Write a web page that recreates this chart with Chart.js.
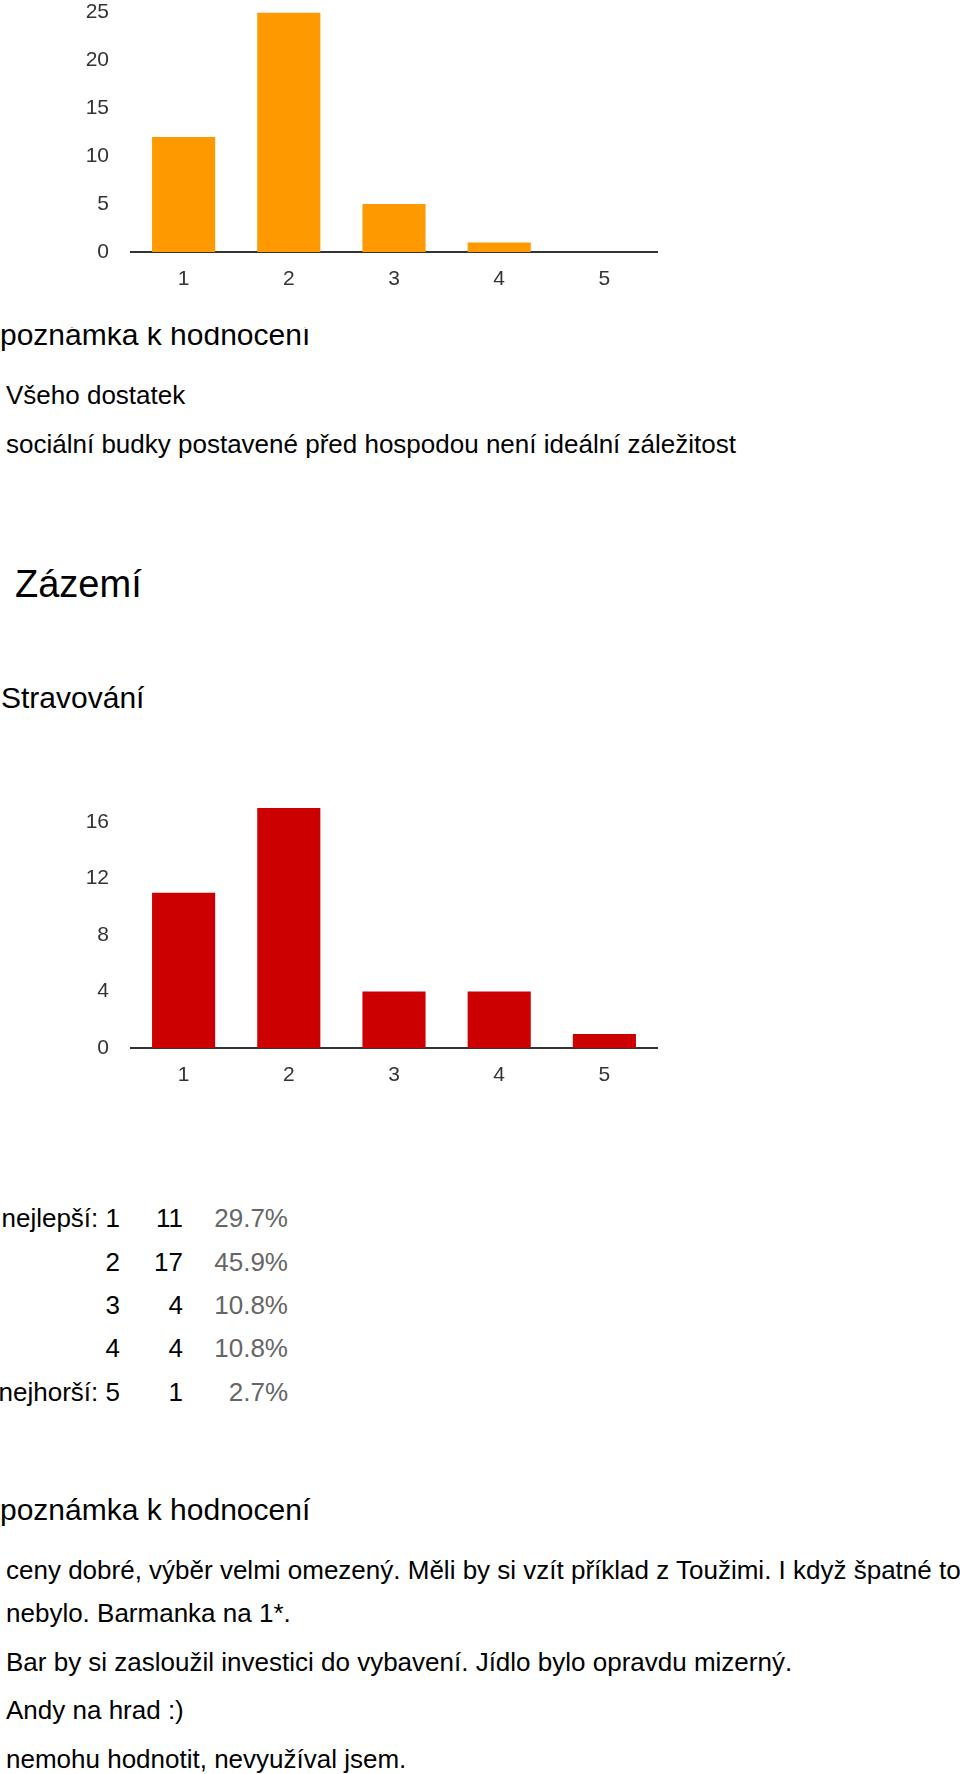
<!DOCTYPE html>
<html>
<head>
<meta charset="utf-8">
<script src="https://cdn.jsdelivr.net/npm/chart.js@4"></script>
<style>
  html, body { margin: 0; padding: 0; background: #fff; width: 960px; height: 1774px; overflow: hidden; }
  body { position: relative; font-family: "Liberation Sans", Arial, sans-serif; color: #000; }
  .t { position: absolute; white-space: nowrap; line-height: 1; }
  .f26 { font-size: 26px; }
  .f30 { font-size: 30px; }
  .f38 { font-size: 38px; }
  .clip { position: absolute; left: 0; top: 327px; width: 600px; height: 40px; overflow: hidden; }
  .clip .t { top: -7.4px; left: 0; }
  .cv { position: absolute; left: 0; }
  .num { position: absolute; text-align: right; white-space: nowrap; line-height: 1; font-size: 26px; }
  .pct { color: #666; }
</style>
</head>
<body>

<div class="cv" style="top:0;width:700px;height:327px;"><canvas id="c1"></canvas></div>

<div class="clip"><div class="t f30">poznámka k hodnocení</div></div>
<div class="t f26" style="left:6px;top:382px;">Všeho dostatek</div>
<div class="t f26" style="left:6px;top:431px;">sociální budky postavené před hospodou není ideální záležitost</div>

<div class="t f38" style="left:15px;top:565px;">Zázemí</div>
<div class="t f30" style="left:1px;top:683px;">Stravování</div>

<div class="cv" style="top:780px;width:700px;height:320px;"><canvas id="c2"></canvas></div>

<div id="table"></div>

<div class="t f30" style="left:0;top:1495px;">poznámka k hodnocení</div>
<div id="comments"></div>

<script>
const categories = ["1", "2", "3", "4", "5"];
const zazemiValues = [12, 25, 5, 1, 0];
const stravovaniValues = [11, 17, 4, 4, 1];
const stravovaniPercents = ["29.7%", "45.9%", "10.8%", "10.8%", "2.7%"];
const rowLabels = ["nejlepší: 1", "2", "3", "4", "nejhorší: 5"];
const commentLines = [
  "ceny dobré, výběr velmi omezený. Měli by si vzít příklad z Toužimi. I když špatné to",
  "nebylo. Barmanka na 1*.",
  "Bar by si zasloužil investici do vybavení. Jídlo bylo opravdu mizerný.",
  "Andy na hrad :)",
  "nemohu hodnotit, nevyužíval jsem."
];

function makeChart(id, values, color, yMax, step, padTop, xHeight) {
  return new Chart(document.getElementById(id), {
    type: 'bar',
    data: {
      labels: categories,
      datasets: [{ data: values, backgroundColor: color, borderWidth: 0,
                   categoryPercentage: 1.0, barPercentage: 0.6 }]
    },
    options: {
      responsive: true,
      maintainAspectRatio: false,
      animation: false,
      devicePixelRatio: 1,
      layout: { padding: { top: padTop, right: 43, left: 0, bottom: 0 } },
      plugins: { legend: { display: false }, tooltip: { enabled: false } },
      scales: {
        x: {
          grid: { display: false, drawTicks: false },
          border: { display: true, color: '#333', width: 2 },
          ticks: { color: '#333', font: { family: 'Liberation Sans', size: 21 }, padding: 15 },
          afterFit: (s) => { s.height = xHeight; }
        },
        y: {
          min: 0, max: yMax,
          grid: { display: false, drawTicks: true, tickLength: 22, tickColor: 'rgba(0,0,0,0)' },
          border: { display: false },
          ticks: { stepSize: step, includeBounds: false, color: '#333',
                   font: { family: 'Liberation Sans', size: 21 }, padding: 0 },
          afterFit: (s) => { s.width = 131; }
        }
      }
    }
  });
}

makeChart('c1', zazemiValues, '#FF9900', 25, 5, 11, 75);
makeChart('c2', stravovaniValues, '#CC0000', 17, 4, 28, 52);

// table
const tableTops = [1205, 1249, 1292, 1335, 1379];
const table = document.getElementById('table');
rowLabels.forEach((lab, i) => {
  const a = document.createElement('div');
  a.className = 'num'; a.style.right = (960 - 120) + 'px'; a.style.top = tableTops[i] + 'px';
  a.textContent = lab; table.appendChild(a);
  const b = document.createElement('div');
  b.className = 'num'; b.style.right = (960 - 183) + 'px'; b.style.top = tableTops[i] + 'px';
  b.textContent = String(stravovaniValues[i]); table.appendChild(b);
  const c = document.createElement('div');
  c.className = 'num pct'; c.style.right = (960 - 288) + 'px'; c.style.top = tableTops[i] + 'px';
  c.textContent = stravovaniPercents[i]; table.appendChild(c);
});

// comments
const commentTops = [1557, 1600, 1649, 1697, 1746];
const cm = document.getElementById('comments');
commentLines.forEach((txt, i) => {
  const d = document.createElement('div');
  d.className = 't f26'; d.style.left = '6px'; d.style.top = commentTops[i] + 'px';
  d.textContent = txt; cm.appendChild(d);
});
</script>
</body>
</html>
